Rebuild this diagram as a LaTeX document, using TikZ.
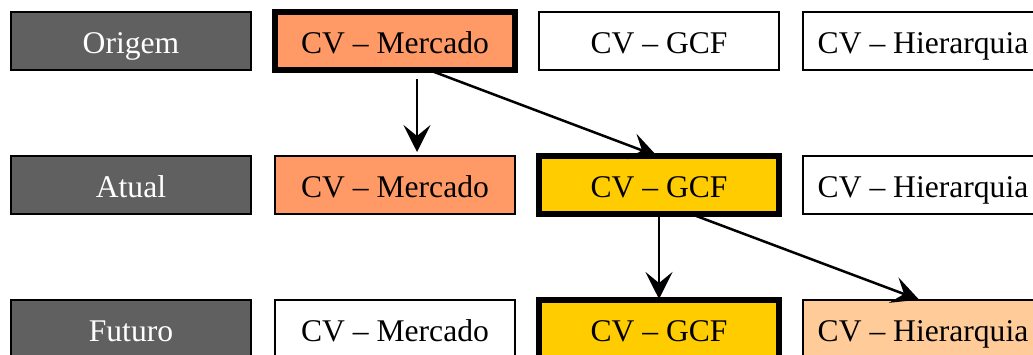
\documentclass[tikz,border=0pt]{standalone}
\usepackage{fontspec}
\setmainfont{Liberation Serif}
\usetikzlibrary{arrows.meta}
\definecolor{labelgrey}{HTML}{606060}
\definecolor{mercado}{HTML}{FF9966}
\definecolor{gcf}{HTML}{FFCC00}
\definecolor{hier}{HTML}{FFCC99}
\begin{document}
\begin{tikzpicture}[x=0.5pt,y=-0.5pt,
  box/.style={draw=black, line width=1pt, minimum width=120pt, minimum height=29pt,
    inner sep=0pt, outer sep=0pt, text height=12.4pt, text depth=0pt,
    font=\fontsize{15.8}{18}\selectfont, fill=white},
  rowlabel/.style={box, fill=labelgrey, text=white},
  chosen/.style={line width=3pt},
  arr/.style={line width=1.25pt, -{Stealth[length=13.5pt, width=13.5pt, inset=5.5pt]}}]
\useasboundingbox (0,0) rectangle (1033,354);
% row: Origem
\node[rowlabel] (o1) at (131,41) {Origem};
\node[box, chosen, fill=mercado] (o2) at (395,41) {CV -- Mercado};
\node[box] (o3) at (659,41) {CV -- GCF};
\node[box] (o4) at (923,41) {CV -- Hierarquia};
% row: Atual
\node[rowlabel] (a1) at (131,185) {Atual};
\node[box, fill=mercado] (a2) at (395,185) {CV -- Mercado};
\node[box, chosen, fill=gcf] (a3) at (659,185) {CV -- GCF};
\node[box] (a4) at (923,185) {CV -- Hierarquia};
% row: Futuro
\node[rowlabel] (f1) at (131,329) {Futuro};
\node[box] (f2) at (395,329) {CV -- Mercado};
\node[box, chosen, fill=gcf] (f3) at (659,329) {CV -- GCF};
\node[box, fill=hier] (f4) at (923,329) {CV -- Hierarquia};
% transitions
\draw[arr, shorten <=4.5pt, shorten >=2pt] ([xshift=11pt]o2.south) -- ([xshift=11pt]a2.north);
\draw[arr, shorten <=1pt] ([xshift=17pt]o2.south) -- ([xshift=-1pt]a3.north);
\draw[arr, shorten <=1.5pt, shorten >=0.5pt] (a3.south) -- (f3.north);
\draw[arr, shorten <=1.5pt, shorten >=0.5pt] ([xshift=16pt]a3.south) -- ([xshift=-1.5pt]f4.north);
\end{tikzpicture}
\end{document}
